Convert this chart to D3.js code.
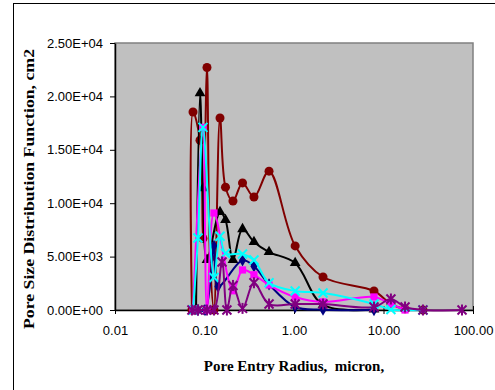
<!DOCTYPE html>
<html>
<head>
<meta charset="utf-8">
<script src="https://cdn.jsdelivr.net/npm/d3@7"></script>
<style>
  html, body { margin: 0; padding: 0; background: #fff; }
  svg { display: block; }
</style>
</head>
<body>
<svg id="chart" width="495" height="390"></svg>
<script>
// Pore entry radius (micron) at each measured step
const radii = [0.0724, 0.0744, 0.0804, 0.0845, 0.0891, 0.0961, 0.1013, 0.1066, 0.1152, 0.1276,
  0.1415, 0.149, 0.157, 0.1716, 0.178, 0.208, 0.266, 0.357, 0.526, 1.03,
  2.11, 7.83, 12.1, 17.4, 27.6, 75.4];

// Pore size distribution function (cm2) for each sample; null = no reading
const sampleA = [0, 18540, null, null, 15900, 6700, null, 22700, 4870, 0,
  null, 17980, null, 11500, null, 10200, 11900, 10580, 13000, 6000,
  3090, 1780, 560, 100, 0, null];
const sampleB = [null, null, 0, null, 20300, 11400, null, 4680, null, null,
  null, 9180, null, 8430, null, 4680, 7580, 6370, 5430, 4400,
  470, 50, null, null, null, null];
const sampleC = [null, null, null, 0, null, null, 0, null, null, 6000,
  2200, null, null, null, null, null, 4650, 4100, 2400, 280,
  30, 0, null, null, null, null];
const sampleD = [null, 0, null, null, null, 17100, null, 0, null, 9080,
  null, null, null, null, null, 1800, 3750, 3300, 2340, 1220,
  750, 1220, 560, 0, null, null];
const sampleE = [null, 0, null, 6740, null, 17100, null, null, null, 3050,
  null, 6900, null, 5300, null, null, 5250, 4680, 2550, 1780,
  1590, 560, 50, null, 0, null];
const sampleF = [0, null, null, 0, null, null, null, 0, null, 0,
  null, null, 4500, null, 0, 2300, 150, 2550, 560, 560,
  560, 280, 1030, 280, 0, 0];

const seriesNames = ["A", "B", "C", "D", "E", "F"];
const seriesValues = [sampleA, sampleB, sampleC, sampleD, sampleE, sampleF];
const seriesColors = ["#800000", "#000000", "#000080", "#FF00FF", "#00FFFF", "#800080"];
const seriesMarkers = ["circle", "triangle", "diamond", "square", "cross", "star"];

const xTicks = [0.01, 0.1, 1, 10, 100];
const yTicks = [0, 5000, 10000, 15000, 20000, 25000];

const svg = d3.select("#chart");

// outer chart frame
svg.append("rect")
  .attr("x", 13.5).attr("y", 3.5)
  .attr("width", 500).attr("height", 400)
  .attr("fill", "#fff").attr("stroke", "#000").attr("stroke-width", 1);

const plot = { left: 115, right: 473, top: 43, bottom: 310 };

const x = d3.scaleLog().domain([0.01, 100]).range([plot.left, plot.right]);
const y = d3.scaleLinear().domain([0, 25000]).range([plot.bottom, plot.top]);

// plot area
svg.append("rect")
  .attr("x", plot.left).attr("y", plot.top)
  .attr("width", plot.right - plot.left).attr("height", plot.bottom - plot.top)
  .attr("fill", "#C0C0C0").attr("stroke", "#808080").attr("stroke-width", 1.5);

const fmtSci = v => {
  if (v === 0) return "0.00E+00";
  const e = Math.floor(Math.log10(v));
  const m = v / Math.pow(10, e);
  return m.toFixed(2) + "E" + (e < 0 ? "-" : "+") + String(Math.abs(e)).padStart(2, "0");
};

const tickFont = "'Liberation Sans', Arial, sans-serif";

// y axis
const yAxis = svg.append("g")
  .attr("transform", `translate(${plot.left},0)`)
  .call(d3.axisLeft(y).tickValues(yTicks).tickFormat(fmtSci).tickSize(5).tickSizeOuter(0).tickPadding(7));
yAxis.select(".domain").attr("stroke", "#000").attr("stroke-width", 1.5);
yAxis.selectAll(".tick line").attr("stroke", "#000");
yAxis.selectAll("text").attr("font-family", tickFont).attr("font-size", 13).attr("fill", "#000");

// x axis
const xAxis = svg.append("g")
  .attr("transform", `translate(0,${plot.bottom})`)
  .call(d3.axisBottom(x).tickValues(xTicks).tickFormat(d3.format(".2f")).tickSize(4).tickSizeOuter(0));
xAxis.select(".domain").attr("stroke", "#000").attr("stroke-width", 1.5);
xAxis.selectAll(".tick line").attr("stroke", "#000").attr("y1", -4);
xAxis.selectAll("text").attr("font-family", tickFont).attr("font-size", 13)
  .attr("fill", "#000").attr("y", 16).attr("dy", "0.71em");

// series
const line = d3.line()
  .defined(d => d.v !== null)
  .x(d => x(d.r))
  .y(d => y(d.v))
  .curve(d3.curveCatmullRom.alpha(0.5));

const symbolFor = {
  circle: d3.symbol(d3.symbolCircle, 64),
  triangle: d3.symbol(d3.symbolTriangle, 50),
  diamond: d3.symbol(d3.symbolDiamond, 44),
  square: d3.symbol(d3.symbolSquare, 52)
};

seriesValues.forEach((vals, i) => {
  const pts = radii.map((r, j) => ({ r, v: vals[j] })).filter(d => d.v !== null);
  const color = seriesColors[i];
  const g = svg.append("g").attr("class", "series-" + seriesNames[i]);
  g.append("path")
    .datum(pts)
    .attr("d", line)
    .attr("fill", "none")
    .attr("stroke", color)
    .attr("stroke-width", 2);

  const marker = seriesMarkers[i];
  const m = g.selectAll("g.pt").data(pts).join("g")
    .attr("class", "pt")
    .attr("transform", d => `translate(${x(d.r)},${y(d.v)})`);
  if (symbolFor[marker]) {
    m.append("path").attr("d", symbolFor[marker]).attr("fill", color);
  } else {
    const s = 4.5;
    m.append("path").attr("d", `M${-s},${-s}L${s},${s}M${-s},${s}L${s},${-s}`)
      .attr("stroke", color).attr("stroke-width", 2).attr("fill", "none");
    if (marker === "star") {
      m.append("path").attr("d", `M0,${-s - 1}L0,${s + 1}`)
        .attr("stroke", color).attr("stroke-width", 2);
    }
  }
});

// axis titles
const titleFont = "'Liberation Serif', 'Times New Roman', serif";
svg.append("text")
  .attr("x", (plot.left + plot.right) / 2).attr("y", 371)
  .attr("text-anchor", "middle")
  .attr("font-family", titleFont).attr("font-weight", "bold").attr("font-size", 15)
  .style("white-space", "pre")
  .text("Pore Entry Radius,  micron,");

svg.append("text")
  .attr("transform", `translate(34,189) rotate(-90)`)
  .attr("text-anchor", "middle")
  .attr("font-family", titleFont).attr("font-weight", "bold").attr("font-size", 15)
  .attr("textLength", 280).attr("lengthAdjust", "spacingAndGlyphs")
  .text("Pore Size Distribution Function, cm2");
</script>
</body>
</html>
